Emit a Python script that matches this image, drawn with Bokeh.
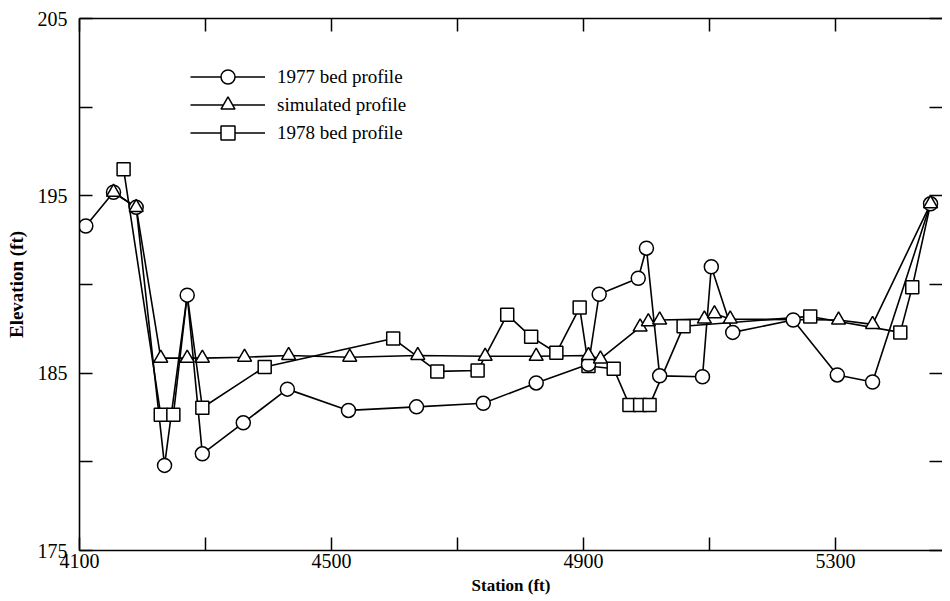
from bokeh.plotting import figure
from bokeh.models import Range1d, LinearAxis, FixedTicker, Legend, LegendItem
from bokeh.embed import file_html
from bokeh.resources import INLINE

# ---- data ----
bed1977_x = [4110, 4154, 4190, 4235, 4271, 4295, 4360, 4430, 4527, 4635, 4741, 4825,
             4908, 4925, 4987, 5000, 5021, 5089, 5103, 5137, 5233, 5303, 5359, 5451]
bed1977_y = [193.3, 195.2, 194.35, 179.8, 189.4, 180.45, 182.2, 184.1, 182.9, 183.1, 183.3, 184.45,
             185.5, 189.45, 190.35, 192.05, 184.85, 184.8, 191.0, 187.3, 188.0, 184.9, 184.5, 194.55]

sim_x = [4154, 4190, 4229, 4271, 4295, 4362, 4432, 4529, 4637, 4744, 4825, 4908,
         4927, 4990, 5003, 5021, 5092, 5108, 5133, 5305, 5359, 5451]
sim_y = [195.2, 194.35, 185.85, 185.85, 185.85, 185.9, 186.0, 185.9, 186.0, 185.95, 185.95, 186.0,
         185.8, 187.6, 187.9, 188.0, 188.05, 188.35, 188.05, 188.0, 187.75, 194.55]

bed1978_x = [4170, 4229, 4249, 4271, 4295, 4394, 4598, 4668, 4732, 4779, 4817, 4857,
             4894, 4908, 4948, 4973, 4990, 5005, 5059, 5260, 5403, 5422, 5451]
bed1978_y = [196.5, 182.65, 182.65, 189.4, 183.05, 185.35, 186.95, 185.1, 185.15, 188.3, 187.05, 186.15,
             188.7, 185.4, 185.25, 183.2, 183.2, 183.2, 187.65, 188.2, 187.3, 189.85, 194.55]
# points of the 1978 line whose square is hidden under other markers
bed1978_marked = [True, True, True, False, True, True, True, True, True, True, True, True,
                  True, True, True, True, True, True, True, True, True, True, False]

labels = ["1977 bed profile", "simulated profile", "1978 bed profile"]

x_major = [4100, 4500, 4900, 5300]          # labelled ticks
x_minor = [4300, 4700, 5100, 5500]          # unlabelled ticks
y_major = [175, 185, 195, 205]
y_minor = [180, 190, 200]

FONT = "Liberation Serif"

p = figure(width=942, height=598, x_range=Range1d(4100, 5470), y_range=Range1d(175, 205),
           output_backend="svg", toolbar_location=None,
           x_axis_location=None, y_axis_location=None)
p.min_border_left = 79
p.min_border_right = 0
p.min_border_top = 18
p.min_border_bottom = 48
p.outline_line_color = None
p.xgrid.visible = False
p.ygrid.visible = False
p.background_fill_color = "white"
p.border_fill_color = "white"


def style_axis(ax, major, minor, line=True):
    ax.ticker = FixedTicker(ticks=major, minor_ticks=minor)
    ax.major_tick_in = 13
    ax.major_tick_out = 0
    ax.minor_tick_in = 13
    ax.minor_tick_out = 0
    ax.major_tick_line_color = "black"
    ax.minor_tick_line_color = "black"
    ax.major_tick_line_width = 1.5
    ax.minor_tick_line_width = 1.5
    ax.axis_line_color = "black" if line else None
    ax.axis_line_width = 1.6
    ax.major_label_text_font = FONT
    ax.major_label_text_font_size = "20px"
    ax.major_label_text_color = "black"


bottom = LinearAxis(axis_label="Station (ft)")
style_axis(bottom, x_major, x_minor)
bottom.major_label_standoff = 3
bottom.axis_label_standoff = 5
bottom.axis_label_text_font = FONT
bottom.axis_label_text_font_size = "17px"
bottom.axis_label_text_font_style = "bold"
bottom.axis_label_text_color = "black"
p.add_layout(bottom, "below")

left = LinearAxis(axis_label="Elevation (ft)")
style_axis(left, y_major, y_minor)
left.major_label_standoff = 12
left.axis_label_standoff = 8
left.axis_label_text_font = FONT
left.axis_label_text_font_size = "19px"
left.axis_label_text_font_style = "bold"
left.axis_label_text_color = "black"
p.add_layout(left, "left")

top = LinearAxis()
style_axis(top, [], x_major + x_minor)
top.major_label_standoff = 0
p.add_layout(top, "above")

right = LinearAxis()
style_axis(right, [], y_major + y_minor, line=False)
right.major_label_standoff = 0
p.add_layout(right, "right")

LW = 1.6
l1977 = p.line(bed1977_x, bed1977_y, line_color="black", line_width=LW)
l1978 = p.line(bed1978_x, bed1978_y, line_color="black", line_width=LW)
lsim = p.line(sim_x, sim_y, line_color="black", line_width=LW)

sq_x = [x for x, m in zip(bed1978_x, bed1978_marked) if m]
sq_y = [y for y, m in zip(bed1978_y, bed1978_marked) if m]
m1978 = p.scatter(sq_x, sq_y, marker="square", size=13, fill_color="white",
                  line_color="black", line_width=1.5)
m1977 = p.scatter(bed1977_x, bed1977_y, marker="circle", size=14, fill_color="white",
                  line_color="black", line_width=1.5)
msim = p.scatter(sim_x, sim_y, marker="triangle", size=14, fill_color="white",
                 line_color="black", line_width=1.5)

# one legend per row so rows can sit closer than the glyph height
rows = [(labels[0], [l1977, m1977]), (labels[1], [lsim, msim]), (labels[2], [l1978, m1978])]
for i, (lab, rends) in enumerate(rows):
    lg = Legend(items=[LegendItem(label=lab, renderers=rends)], location=(111, 456 - 28 * i))
    lg.glyph_width = 75
    lg.glyph_height = 35
    lg.label_height = 20
    lg.padding = 0
    lg.margin = 0
    lg.label_standoff = 12
    lg.border_line_color = None
    lg.background_fill_alpha = 0
    lg.label_text_font = FONT
    lg.label_text_font_size = "19px"
    lg.label_text_color = "black"
    p.add_layout(lg, "center")

open("out.html", "w").write(file_html(p, INLINE))
